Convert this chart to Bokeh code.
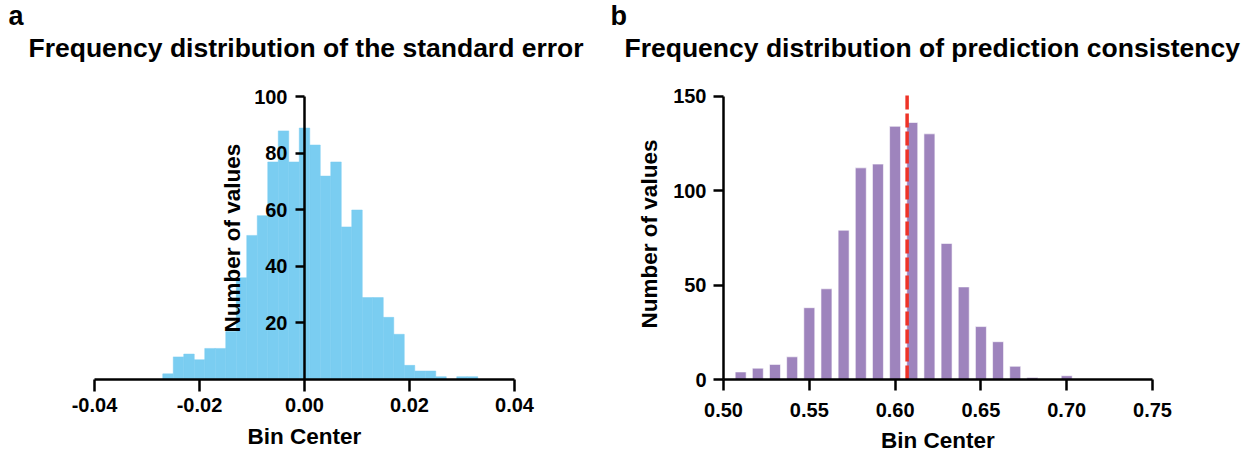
from bokeh.plotting import figure
from bokeh.layouts import row
from bokeh.models import (LinearAxis, FixedTicker, NumeralTickFormatter,
                          Range1d, Title)
from bokeh.embed import file_html
from bokeh.resources import INLINE

# ---------------- data ----------------
se_centers = [-0.026, -0.024, -0.022, -0.020, -0.018, -0.016, -0.014, -0.012,
              -0.010, -0.008, -0.006, -0.004, -0.002, 0.000, 0.002, 0.004,
              0.006, 0.008, 0.010, 0.012, 0.014, 0.016, 0.018, 0.020, 0.022,
              0.024, 0.026, 0.028, 0.030, 0.032]
se_counts = [2, 8, 9, 7, 11, 11, 17, 36, 51, 58, 77, 88, 77, 89, 83, 72,
             77, 54, 60, 29, 29, 22, 16, 5, 3, 3, 1, 0, 1, 1]
se_ticks = [-0.04, -0.02, 0.0, 0.02, 0.04]
se_yticks = [20, 40, 60, 80, 100]

pc_centers = [0.51, 0.52, 0.53, 0.54, 0.55, 0.56, 0.57, 0.58, 0.59, 0.60,
              0.61, 0.62, 0.63, 0.64, 0.65, 0.66, 0.67, 0.68, 0.69, 0.70]
pc_counts = [4, 6, 8, 12, 38, 48, 79, 112, 114, 134, 136, 130, 72, 49, 28,
             20, 7, 1, 0, 2]
pc_ticks = [0.50, 0.55, 0.60, 0.65, 0.70, 0.75]
pc_yticks = [0, 50, 100, 150]
pc_mean = 0.607

title_a = "Frequency distribution of the standard error"
title_b = "Frequency distribution of prediction consistency"

FONT = "Liberation Sans"
BLUE = "#7ACDF1"
PURPLE = "#9E84BD"
RED = "#EE3327"


def style_axis(ax, tick_out, label_standoff, axis_label_standoff):
    ax.axis_line_width = 2.5
    ax.axis_line_color = "black"
    ax.major_tick_line_width = 2.5
    ax.major_tick_line_color = "black"
    ax.major_tick_out = tick_out
    ax.major_tick_in = 0
    ax.minor_tick_out = 0
    ax.minor_tick_in = 0
    ax.major_label_text_font = FONT
    ax.major_label_text_font_style = "bold"
    ax.major_label_text_font_size = "20px"
    ax.major_label_text_color = "black"
    ax.major_label_standoff = label_standoff
    ax.axis_label_text_font = FONT
    ax.axis_label_text_font_style = "bold"
    ax.axis_label_text_font_size = "22.5px"
    ax.axis_label_text_color = "black"
    ax.axis_label_standoff = axis_label_standoff


def add_titles(p, letter, text, letter_offset, text_offset):
    p.add_layout(Title(text=text, align="left", offset=text_offset,
                       vertical_align="top", standoff=0,
                       padding=dict(left=0, right=0, top=0, bottom=24),
                       text_font=FONT, text_font_style="bold",
                       text_font_size="26.5px", text_color="black"), "above")
    p.add_layout(Title(text=letter, align="left", offset=letter_offset,
                       vertical_align="top", standoff=0,
                       text_font=FONT, text_font_style="bold",
                       text_font_size="27px", text_color="black"), "above")


TOP = 88
HEIGHT = 455
BOTTOM = 76

# ---------------- panel a ----------------
pa = figure(width=606, height=HEIGHT, x_range=Range1d(-0.04, 0.04),
            y_range=Range1d(0, 103), output_backend="svg",
            toolbar_location=None, y_axis_location=None,
            min_border_left=94, min_border_right=92,
            min_border_top=TOP, min_border_bottom=BOTTOM)
pa.outline_line_color = None
pa.xgrid.visible = False
pa.ygrid.visible = False
pa.vbar(x=se_centers, top=se_counts, width=0.002, fill_color=BLUE,
        line_color=BLUE, line_width=0.5)

xa = pa.xaxis[0]
xa.ticker = FixedTicker(ticks=se_ticks)
xa.formatter = NumeralTickFormatter(format="0.00")
xa.axis_label = "Bin Center"
style_axis(xa, 12, 6, 9)

ya = LinearAxis(fixed_location=0, ticker=FixedTicker(ticks=se_yticks),
                axis_label="Number of values", bounds=(0, 100))
style_axis(ya, 9, 8, 6)
pa.add_layout(ya, "left")

add_titles(pa, "a", title_a, -86, -66)

# ---------------- panel b ----------------
pb = figure(width=652, height=HEIGHT, x_range=Range1d(0.50, 0.75),
            y_range=Range1d(0, 154), output_backend="svg",
            toolbar_location=None,
            min_border_left=117, min_border_right=106,
            min_border_top=TOP, min_border_bottom=BOTTOM)
pb.outline_line_color = None
pb.xgrid.visible = False
pb.ygrid.visible = False
pb.vbar(x=pc_centers, top=pc_counts, width=0.0064, fill_color=PURPLE,
        line_color="white", line_width=0.6)
pb.segment(x0=[pc_mean], y0=[0], x1=[pc_mean], y1=[151.5], line_color=RED,
           line_width=3.5, line_dash="14 4")

xb = pb.xaxis[0]
xb.ticker = FixedTicker(ticks=pc_ticks)
xb.formatter = NumeralTickFormatter(format="0.00")
xb.axis_label = "Bin Center"
style_axis(xb, 11, 12, 8)

yb = pb.yaxis[0]
yb.ticker = FixedTicker(ticks=pc_yticks)
yb.bounds = (0, 150)
yb.axis_label = "Number of values"
style_axis(yb, 10, 7, 8)

add_titles(pb, "b", title_b, -113, -99)

layout = row(pa, pb)
open("out.html", "w").write(file_html(layout, INLINE))
